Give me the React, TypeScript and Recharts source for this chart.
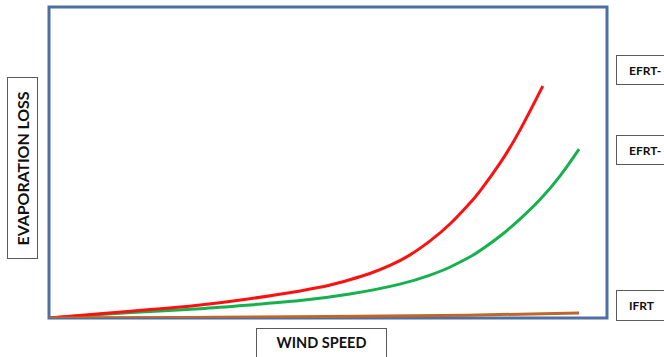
import React from "react";
import { LineChart, Line, XAxis, YAxis, ReferenceArea } from "recharts";

// wind speed (relative 0-100) and evaporation loss (relative 0-100)
const efrtA = [
  { x: 0, y: 0 },
  { x: 9.1, y: 1.4 },
  { x: 18.1, y: 2.7 },
  { x: 27.1, y: 4.2 },
  { x: 36.0, y: 6.2 },
  { x: 45.0, y: 8.7 },
  { x: 50.4, y: 10.6 },
  { x: 53.9, y: 12.3 },
  { x: 57.5, y: 14.3 },
  { x: 61.1, y: 16.9 },
  { x: 64.7, y: 20.3 },
  { x: 68.3, y: 24.8 },
  { x: 71.9, y: 30.3 },
  { x: 75.4, y: 36.9 },
  { x: 77.2, y: 40.7 },
  { x: 80.8, y: 49.7 },
  { x: 84.4, y: 60.4 },
  { x: 88.5, y: 74.6 },
];
const efrtB = [
  { x: 0, y: 0 },
  { x: 9.1, y: 1.1 },
  { x: 18.1, y: 2.1 },
  { x: 27.1, y: 3.0 },
  { x: 36.0, y: 4.2 },
  { x: 45.0, y: 5.6 },
  { x: 53.9, y: 7.7 },
  { x: 62.9, y: 10.9 },
  { x: 68.3, y: 13.8 },
  { x: 71.9, y: 16.4 },
  { x: 75.4, y: 19.6 },
  { x: 77.2, y: 21.6 },
  { x: 80.8, y: 26.3 },
  { x: 84.4, y: 31.8 },
  { x: 88.0, y: 38.1 },
  { x: 91.6, y: 45.7 },
  { x: 95.0, y: 54.3 },
];
const ifrt = [
  { x: 0, y: 0 },
  { x: 25, y: 0.2 },
  { x: 50, y: 0.45 },
  { x: 75, y: 0.9 },
  { x: 95.0, y: 1.6 },
];

const yLabel = "EVAPORATION LOSS";
const xLabel = "WIND SPEED";
const seriesLabels = ["EFRT-", "EFRT-", "IFRT"];

const font = "Lato, 'Open Sans', sans-serif";

const boxStyle: React.CSSProperties = {
  position: "absolute",
  border: "1px solid #5a5a5a",
  background: "#fff",
  boxSizing: "border-box",
  fontFamily: font,
  fontWeight: 700,
  color: "#111",
  display: "flex",
  alignItems: "center",
};

export default function App() {
  return (
    <div
      style={{
        position: "absolute",
        left: 0,
        top: 0,
        width: 664,
        height: 357,
        overflow: "hidden",
        background: "#fff",
      }}
    >
      <LineChart
        width={664}
        height={357}
        margin={{ top: 7, right: 57, bottom: 39, left: 49 }}
      >
        <XAxis type="number" dataKey="x" domain={[0, 100]} hide allowDataOverflow />
        <YAxis type="number" dataKey="y" domain={[0, 100]} hide allowDataOverflow />
        <ReferenceArea
          x1={0}
          x2={100}
          y1={0}
          y2={100}
          fill="none"
          fillOpacity={0}
          stroke="#4d6fa6"
          strokeWidth={3}
        />
        <Line
          data={efrtB}
          dataKey="y"
          type="natural"
          stroke="#16b04e"
          strokeWidth={3}
          dot={false}
          isAnimationActive={false}
        />
        <Line
          data={efrtA}
          dataKey="y"
          type="natural"
          stroke="#ff1010"
          strokeWidth={3}
          dot={false}
          isAnimationActive={false}
        />
        <Line
          data={ifrt}
          dataKey="y"
          type="natural"
          stroke="#bf662a"
          strokeWidth={3}
          dot={false}
          isAnimationActive={false}
        />
      </LineChart>

      <div
        style={{
          ...boxStyle,
          left: 7,
          top: 77,
          width: 31,
          height: 182,
          justifyContent: "center",
        }}
      >
        <span
          style={{
            transform: "rotate(-90deg)",
            whiteSpace: "nowrap",
            fontSize: 16,
            letterSpacing: -0.1,
          }}
        >
          {yLabel}
        </span>
      </div>

      <div
        style={{
          ...boxStyle,
          left: 256,
          top: 328,
          width: 131,
          height: 40,
          justifyContent: "center",
          alignItems: "flex-start",
          paddingTop: 5,
          fontSize: 14.5,
        }}
      >
        {xLabel}
      </div>

      <div style={{ ...boxStyle, left: 616, top: 55, width: 80, height: 30, paddingLeft: 12, fontSize: 12 }}>
        {seriesLabels[0]}
      </div>
      <div style={{ ...boxStyle, left: 616, top: 135, width: 80, height: 30, paddingLeft: 12, fontSize: 12 }}>
        {seriesLabels[1]}
      </div>
      <div style={{ ...boxStyle, left: 616, top: 290, width: 80, height: 31, paddingLeft: 12, fontSize: 12 }}>
        {seriesLabels[2]}
      </div>
    </div>
  );
}
